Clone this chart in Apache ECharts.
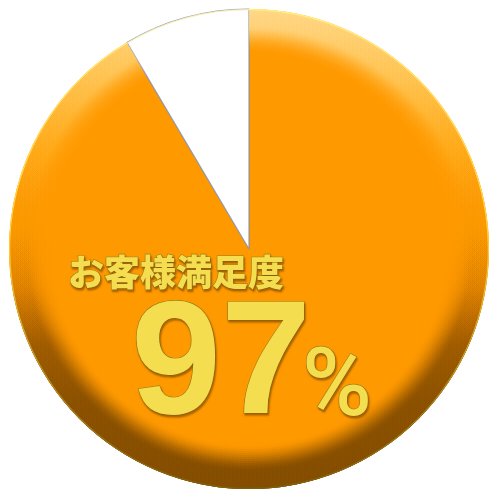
<!DOCTYPE html>
<html><head><meta charset="utf-8">
<script src="https://cdn.jsdelivr.net/npm/echarts@6/dist/echarts.min.js"></script>
<style>html,body{margin:0;padding:0;background:#fff}#c{width:500px;height:500px}</style>
</head><body><div id="c"></div>
<script>
const categories = ['満足', 'その他'];
const sliceValues = [91.5, 8.5];
const headline = 'お客様満足度';
const percentValue = 97;
const percentSign = '%';

const chart = echarts.init(document.getElementById('c'), null, {renderer: 'canvas'});
const CX = 249, CY = 249, R = 240;
const ORANGE = '#FF9900';
const LG = echarts.graphic.LinearGradient;

function sliceData(styles) {
  return categories.map((name, i) => ({name: name, value: sliceValues[i], itemStyle: styles[i]}));
}
const base = {
  type: 'pie', center: [CX, CY], startAngle: 90, clockwise: true, silent: true,
  label: {show: false}, labelLine: {show: false}, emphasis: {disabled: true},
  animation: false, avoidLabelOverlap: false, minAngle: 0
};
const series = [];
series.push(Object.assign({}, base, {radius: [0, R], data: sliceData([
  {color: ORANGE, borderWidth: 0},
  {color: '#ffffff', borderWidth: 1.2, borderColor: 'rgba(120,135,170,0.8)'}
])}));

// bevel rim: stacked translucent rings (decoration only)
const step = 2, N = 23;
function profile(d) {
  if (d <= 17) return 0.97;
  const u = Math.min(1, (d - 17) / 28);
  const s = u * u * (3 - 2 * u);
  return 0.97 * (1 - s);
}
const ringAlpha = [];
let Tnext = 1;
for (let k = N - 1; k >= 0; k--) {
  const T = 1 - profile(k * step + step / 2);
  ringAlpha[k] = Math.max(0, Math.min(0.95, 1 - T / Tnext));
  Tnext = T;
}
// [t, r, g, b, weight]
const rimStops = [
  [0.00, 255, 222, 150, 0.7],
  [0.14, 255, 205, 100, 0.55],
  [0.30, 255, 180, 40, 0.3],
  [0.45, 240, 150, 0, 0.12],
  [0.58, 195, 110, 0, 0.25],
  [0.70, 150, 85, 0, 0.7],
  [0.82, 135, 78, 0, 0.95],
  [1.00, 128, 74, 0, 1.0]
];
for (let k = 0; k < N; k++) {
  const a = ringAlpha[k];
  const grad = new LG(0, 0, 0, 1, rimStops.map(s => ({
    offset: s[0], color: 'rgba(' + s[1] + ',' + s[2] + ',' + s[3] + ',' + (a * s[4]).toFixed(3) + ')'
  })));
  series.push(Object.assign({}, base, {radius: [R - (k + 1) * step, R], data: sliceData([
    {color: grad, borderWidth: 0},
    {color: 'rgba(0,0,0,0)', borderWidth: 0}
  ])}));
}
series.push(Object.assign({}, base, {radius: [R - 1.2, R], data: sliceData([
  {color: new LG(0, 0, 0, 1, [{offset: 0, color: '#FFF080'}, {offset: 0.5, color: '#FFD040'}, {offset: 1, color: '#7A6010'}]), borderWidth: 0},
  {color: 'rgba(250,240,170,0.9)', borderWidth: 0}
])}));

const txt = {
  color: '#F4DE50', fontWeight: 'bold',
  textBorderColor: '#9C7F1A', textBorderWidth: 1.2,
  textShadowColor: 'rgba(110,60,0,0.55)', textShadowBlur: 2,
  textShadowOffsetX: 1, textShadowOffsetY: 2
};
chart.setOption({
  backgroundColor: '#ffffff',
  title: [
    {text: headline, left: 68, top: 254, padding: 0,
     textStyle: Object.assign({}, txt, {fontSize: 36, fontWeight: 900, fontFamily: '"Noto Sans CJK JP", sans-serif'})},
    {text: String(percentValue), left: 131, top: 287, padding: 0,
     textStyle: Object.assign({}, txt, {fontSize: 162, fontFamily: '"Liberation Sans", Arial, sans-serif'})},
    {text: percentSign, left: 302, top: 344, padding: 0,
     textStyle: Object.assign({}, txt, {fontSize: 95, fontWeight: 500, fontFamily: 'Roboto, sans-serif'})}
  ],
  series: series
});
</script></body></html>
